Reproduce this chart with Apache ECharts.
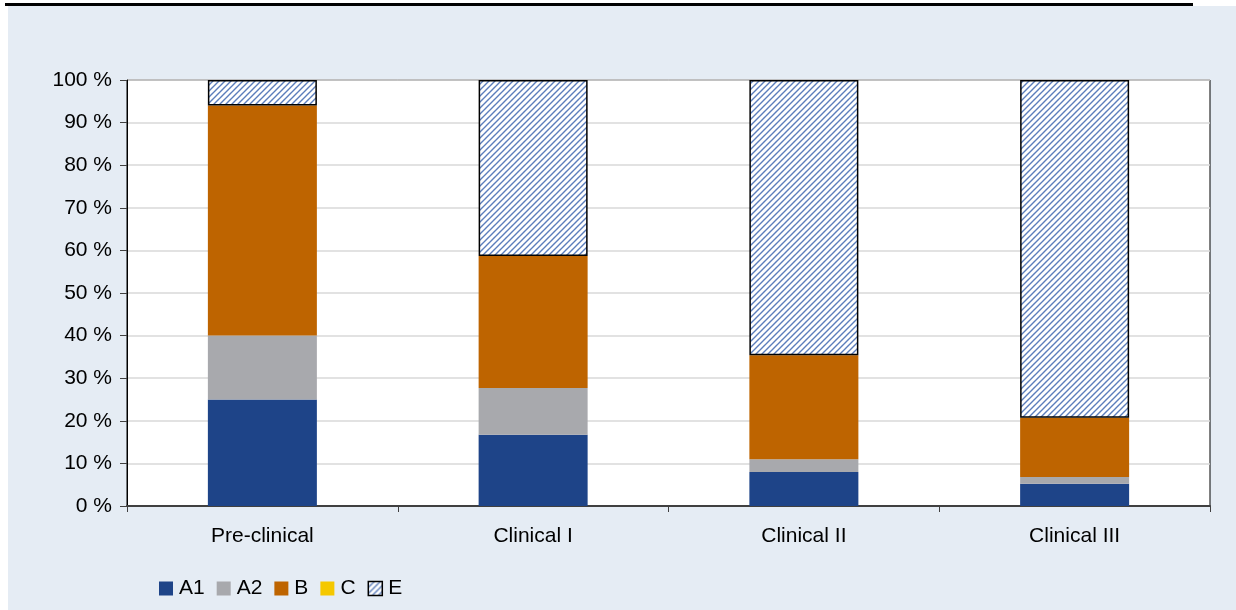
<!DOCTYPE html>
<html>
<head>
<meta charset="utf-8">
<script src="https://cdn.jsdelivr.net/npm/echarts@6/dist/echarts.min.js"></script>
<style>
  html, body { margin: 0; padding: 0; background: #ffffff; }
  #chart { width: 1236px; height: 610px; }
</style>
</head>
<body>
<div id="chart"></div>
<script>
const categories = ['Pre-clinical', 'Clinical I', 'Clinical II', 'Clinical III'];
const seriesA1 = [25, 16.7, 8, 5.2];
const seriesA2 = [15, 11, 3, 1.6];
const seriesB  = [54, 31, 24.4, 13.9];
const seriesC  = [0, 0, 0, 0];
const seriesE  = [6, 41.3, 64.6, 79.3];
const yTicks = [0, 100, 10];

function hatch() {
  const s = 6;
  const c = document.createElement('canvas');
  c.width = s; c.height = s;
  const g = c.getContext('2d');
  g.fillStyle = '#ffffff';
  g.fillRect(0, 0, s, s);
  g.strokeStyle = '#5b7dbb';
  g.lineWidth = 1.4;
  g.beginPath();
  g.moveTo(-1, s + 1); g.lineTo(s + 1, -1);
  g.moveTo(-1, 1); g.lineTo(1, -1);
  g.moveTo(s - 1, s + 1); g.lineTo(s + 1, s - 1);
  g.stroke();
  return c;
}
const pattern = { image: hatch(), repeat: 'repeat' };

const chart = echarts.init(document.getElementById('chart'), null, { renderer: 'canvas' });
const font = 'Liberation Sans, Arial, sans-serif';
function bar(name, data, color, extra) {
  return Object.assign({
    name: name, type: 'bar', stack: 'total', data: data, barWidth: 109,
    itemStyle: { color: color },
    emphasis: { disabled: true }
  }, extra || {});
}
chart.setOption({
  animation: false,
  textStyle: { fontFamily: font },
  graphic: [
    { type: 'rect', z: -10, shape: { x: 8, y: 6, width: 1228, height: 604 }, style: { fill: '#e5ecf4' } },
    { type: 'rect', z: -5, shape: { x: 5, y: 3, width: 1188, height: 3 }, style: { fill: '#000000' } }
  ],
  grid: { left: 127, right: 26, top: 80, bottom: 104, show: true, backgroundColor: '#ffffff', borderColor: '#000000', borderWidth: 1 },
  legend: {
    left: 154, top: 573, itemWidth: 14, itemHeight: 14, itemGap: 12, icon: 'rect',
    textStyle: { fontSize: 21, color: '#000', fontFamily: font, padding: [0, 0, 0, 1] },
    data: ['A1', 'A2', 'B', 'C', { name: 'E', itemStyle: { borderColor: '#000', borderWidth: 1.5 } }]
  },
  xAxis: {
    type: 'category', data: categories,
    axisLine: { lineStyle: { color: '#404040', width: 2 } },
    axisTick: { show: true, length: 6, lineStyle: { color: '#404040' } },
    axisLabel: { fontSize: 21, color: '#000', margin: 20, fontFamily: font }
  },
  yAxis: {
    type: 'value', min: yTicks[0], max: yTicks[1], interval: yTicks[2],
    axisLine: { show: true, lineStyle: { color: '#000', width: 1 } },
    axisTick: { show: true, length: 7, lineStyle: { color: '#404040' } },
    axisLabel: { fontSize: 21, color: '#000', margin: 15, formatter: '{value} %', fontFamily: font },
    splitLine: { lineStyle: { color: '#d9d9d9', width: 1.5 } }
  },
  series: [
    bar('A1', seriesA1, '#1e4488'),
    bar('A2', seriesA2, '#a8a9ad'),
    bar('B', seriesB, '#be6400'),
    bar('C', seriesC, '#f5c800'),
    bar('E', seriesE, pattern, { itemStyle: { color: pattern, borderColor: '#000', borderWidth: 1.5 } })
  ]
});
</script>
</body>
</html>
